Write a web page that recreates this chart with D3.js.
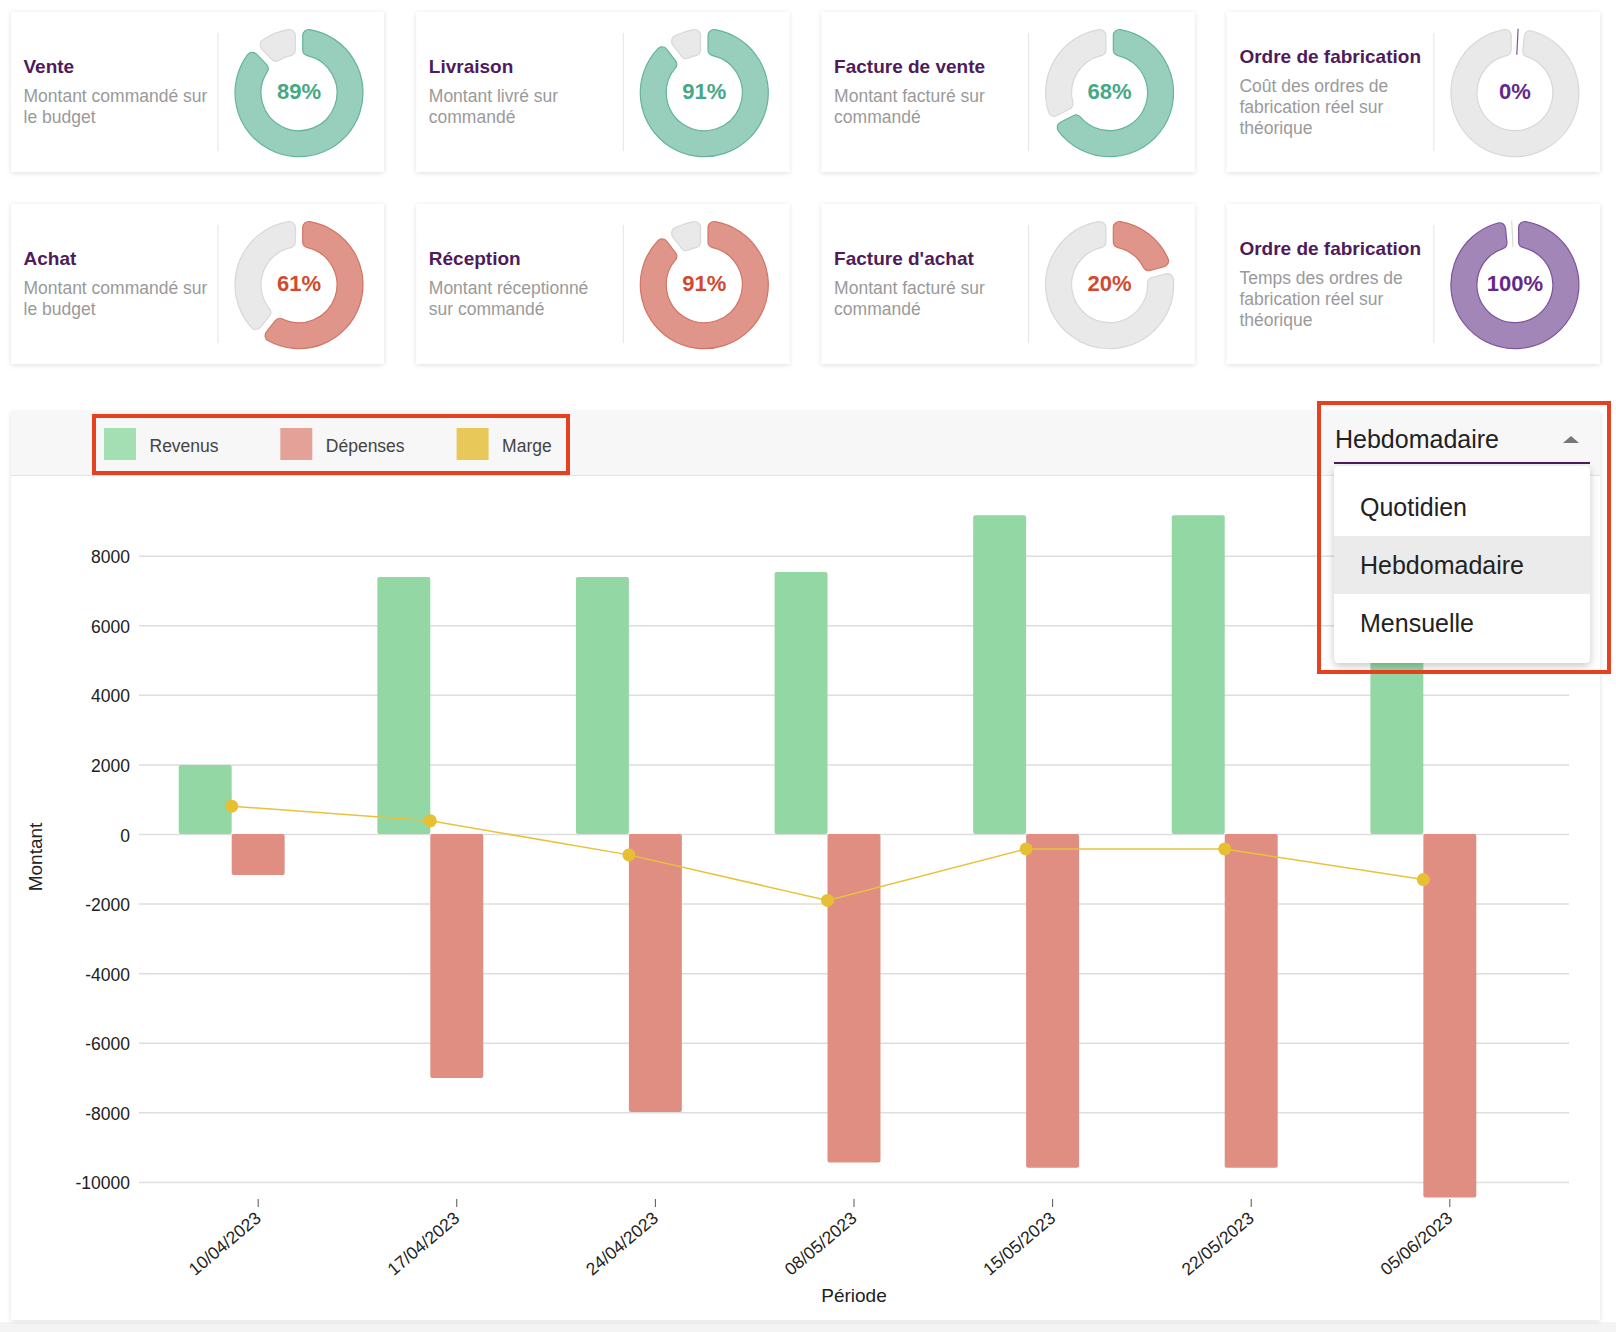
<!DOCTYPE html>
<html>
<head>
<meta charset="utf-8">
<script src="https://cdn.jsdelivr.net/npm/d3@7/dist/d3.min.js"></script>
<style>
  body { margin: 0; background: #fff; font-family: "Liberation Sans", Arial, Helvetica, sans-serif; }
  svg text { font-family: "Liberation Sans", Arial, Helvetica, sans-serif; }
</style>
</head>
<body>
<svg id="page" width="1616" height="1332"></svg>
<script>
// ---- indicateurs (cartes du haut)
var kpiTitres = ["Vente", "Livraison", "Facture de vente", "Ordre de fabrication",
                 "Achat", "Réception", "Facture d'achat", "Ordre de fabrication"];
var kpiSousTitres = [
  ["Montant commandé sur", "le budget"],
  ["Montant livré sur", "commandé"],
  ["Montant facturé sur", "commandé"],
  ["Coût des ordres de", "fabrication réel sur", "théorique"],
  ["Montant commandé sur", "le budget"],
  ["Montant réceptionné", "sur commandé"],
  ["Montant facturé sur", "commandé"],
  ["Temps des ordres de", "fabrication réel sur", "théorique"]
];
var kpiValeurs = [89, 91, 68, 0, 61, 91, 20, 100];
var kpiGroupes = ["vente", "vente", "vente", "fabrication", "achat", "achat", "achat", "fabrication"];

// ---- graphique
var periodes = ["10/04/2023", "17/04/2023", "24/04/2023", "08/05/2023", "15/05/2023", "22/05/2023", "05/06/2023"];
var revenus  = [1980, 7390, 7390, 7530, 9160, 9160, 9140];
var depenses = [-1180, -7010, -7990, -9440, -9590, -9590, -10450];
var marge    = [800, 380, -600, -1910, -430, -430, -1310];
var series = ["Revenus", "Dépenses", "Marge"];
var frequences = ["Quotidien", "Hebdomadaire", "Mensuelle"];
var frequenceChoisie = "Hebdomadaire";

var palette = {
  vente:       {fill: "#97cebc", stroke: "#66b598", text: "#47a886"},
  achat:       {fill: "#e0958a", stroke: "#d27565", text: "#d2492f"},
  fabrication: {fill: "#a386b8", stroke: "#7d539c", text: "#65288a"},
  reste:       {fill: "#e9e9e9", stroke: "#d8d8d8"}
};
var serieColors = {"Revenus": "#93d7a5", "Dépenses": "#df8e81", "Marge": "#e6bf33"};
var legendColors = {"Revenus": "#a3dfb3", "Dépenses": "#e3a197", "Marge": "#e9c85a"};

var svg = d3.select("#page");
var defs = svg.append("defs");
defs.append("filter").attr("id", "shadow").attr("x", "-10%").attr("y", "-10%").attr("width", "120%").attr("height", "120%")
  .append("feDropShadow").attr("dx", 0).attr("dy", 1).attr("stdDeviation", 2.5)
  .attr("flood-color", "#000").attr("flood-opacity", 0.13);
defs.append("filter").attr("id", "menuShadow").attr("x", "-20%").attr("y", "-20%").attr("width", "140%").attr("height", "140%")
  .append("feDropShadow").attr("dx", 0).attr("dy", 3).attr("stdDeviation", 4)
  .attr("flood-color", "#000").attr("flood-opacity", 0.22);

// bande grise en bas de page
svg.append("rect").attr("x", 0).attr("y", 1322).attr("width", 1616).attr("height", 10).attr("fill", "#f4f4f4");

// ---------- cartes
var cardW = 373, cardH = 160;
var pie = d3.pie().sort(null).padAngle(0.1);
var arc = d3.arc().innerRadius(38).outerRadius(64).cornerRadius(6);

kpiTitres.forEach(function(titre, i) {
  var col = i % 4, row = Math.floor(i / 4);
  var cx = 11 + col * 405.3, cy = 12 + row * 192;
  var g = svg.append("g").attr("transform", "translate(" + cx + "," + cy + ")");
  var pal = palette[kpiGroupes[i]];

  g.append("rect").attr("width", cardW).attr("height", cardH).attr("fill", "#fff").attr("filter", "url(#shadow)");

  var lignes = kpiSousTitres[i];
  var H = 29 + 21 * (lignes.length - 1);
  var base = 86 - H / 2;
  g.append("text").attr("x", 12.5).attr("y", base)
    .attr("font-size", "19px").attr("font-weight", "bold").attr("fill", "#4e1b5b").text(titre);
  lignes.forEach(function(l, k) {
    g.append("text").attr("x", 12.5).attr("y", base + 29 + 21 * k)
      .attr("font-size", "17.5px").attr("fill", "#9a9a9a").text(l);
  });

  g.append("line").attr("x1", 207).attr("x2", 207).attr("y1", 21).attr("y2", 139)
    .attr("stroke", "#e4e4e4").attr("stroke-width", 1);

  var donut = g.append("g").attr("transform", "translate(288,80.7)");
  donut.selectAll("path")
    .data(pie([kpiValeurs[i], 100 - kpiValeurs[i]]))
    .join("path")
      .attr("d", arc)
      .attr("fill", function(d, j) { return j === 0 ? pal.fill : palette.reste.fill; })
      .attr("stroke", function(d, j) { return j === 0 ? pal.stroke : palette.reste.stroke; })
      .attr("stroke-width", 1.2);
  donut.append("text").attr("text-anchor", "middle").attr("dy", "0.3em")
    .attr("font-size", "22px").attr("font-weight", "bold").attr("fill", pal.text)
    .text(kpiValeurs[i] + "%");
});

// ---------- panneau du graphique
var panel = svg.append("g");
panel.append("rect").attr("x", 11).attr("y", 412).attr("width", 1589).attr("height", 908)
  .attr("fill", "#fff").attr("filter", "url(#shadow)");
panel.append("rect").attr("x", 11).attr("y", 412).attr("width", 1589).attr("height", 63).attr("fill", "#f7f7f7");
panel.append("line").attr("x1", 11).attr("x2", 1600).attr("y1", 475.5).attr("y2", 475.5)
  .attr("stroke", "#e4e4e4").attr("stroke-width", 1);

// légende
var legend = panel.selectAll(".leg").data(series).join("g")
  .attr("class", "leg")
  .attr("transform", function(d, i) { return "translate(" + (104 + i * 176.3) + ",428)"; });
legend.append("rect").attr("width", 32).attr("height", 32).attr("fill", function(d) { return legendColors[d]; });
legend.append("text").attr("x", 45.5).attr("y", 23.7).attr("font-size", "17.5px").attr("fill", "#444")
  .text(function(d) { return d; });

// échelles
var x = d3.scaleBand().domain(periodes).range([139, 1569]).padding(0.2);
var xSub = d3.scaleBand().domain(series).range([0, x.bandwidth()]);
var y = d3.scaleLinear().domain([d3.min(depenses), d3.max(revenus)]).range([1197.6, 515.3]);

// axe y + grille
var yAxis = panel.append("g").attr("transform", "translate(139,0)")
  .call(d3.axisLeft(y).ticks(10).tickSize(-1430).tickPadding(9).tickFormat(function(d) { return String(d); }));
yAxis.select(".domain").remove();
yAxis.selectAll(".tick line").attr("stroke", "#dedede").attr("stroke-width", 1.5);
yAxis.selectAll(".tick text").attr("font-size", "17.5px").attr("fill", "#222").attr("dy", "0.4em");

// barres
var chart = panel.append("g");
chart.selectAll(".rev").data(periodes).join("rect")
  .attr("class", "rev")
  .attr("x", function(d) { return x(d) + xSub("Revenus"); })
  .attr("y", function(d, i) { return y(revenus[i]); })
  .attr("width", xSub.bandwidth())
  .attr("height", function(d, i) { return y(0) - y(revenus[i]); })
  .attr("rx", 2)
  .attr("fill", serieColors["Revenus"]);
chart.selectAll(".dep").data(periodes).join("rect")
  .attr("class", "dep")
  .attr("x", function(d) { return x(d) + xSub("Dépenses"); })
  .attr("y", y(0))
  .attr("width", xSub.bandwidth())
  .attr("height", function(d, i) { return y(depenses[i]) - y(0); })
  .attr("rx", 2)
  .attr("fill", serieColors["Dépenses"]);

// ligne de marge
var mx = function(d) { return x(d) + xSub.bandwidth(); };
chart.append("path")
  .datum(periodes)
  .attr("fill", "none")
  .attr("stroke", "#e8c23c")
  .attr("stroke-width", 1.5)
  .attr("d", d3.line().x(mx).y(function(d, i) { return y(marge[i]); }));
chart.selectAll(".pt").data(periodes).join("circle")
  .attr("class", "pt")
  .attr("cx", mx)
  .attr("cy", function(d, i) { return y(marge[i]); })
  .attr("r", 6.5)
  .attr("fill", serieColors["Marge"]);

// axe x
var xAxis = panel.append("g").attr("transform", "translate(0,1199)")
  .call(d3.axisBottom(x).tickSize(8));
xAxis.select(".domain").remove();
xAxis.selectAll(".tick line").attr("stroke", "#555");
xAxis.selectAll(".tick text")
  .attr("x", 0).attr("y", 0).attr("dy", 0)
  .attr("transform", "translate(4,21) rotate(-40)")
  .style("text-anchor", "end")
  .attr("font-size", "17.5px").attr("fill", "#222");

// titres des axes
panel.append("text").attr("text-anchor", "middle").attr("x", 854).attr("y", 1302)
  .attr("font-size", "19px").attr("fill", "#222").text("Période");
panel.append("text").attr("text-anchor", "middle").attr("transform", "translate(42,857) rotate(-90)")
  .attr("font-size", "19px").attr("fill", "#222").text("Montant");

// ---------- sélecteur de fréquence
var sel = svg.append("g");
sel.append("text").attr("x", 1335).attr("y", 448).attr("font-size", "25px").attr("fill", "#222").text(frequenceChoisie);
sel.append("path").attr("d", "M1563,443L1579,443L1571,436Z").attr("fill", "#777");
sel.append("rect").attr("x", 1334).attr("y", 462).attr("width", 256).attr("height", 2).attr("fill", "#4e1b5b");

var menu = sel.append("g");
menu.append("rect").attr("x", 1334).attr("y", 466).attr("width", 256).attr("height", 197).attr("rx", 5)
  .attr("fill", "#fff").attr("filter", "url(#menuShadow)");
menu.selectAll(".opt").data(frequences).join("g")
  .attr("class", "opt")
  .attr("transform", function(d, i) { return "translate(1334," + (478 + i * 58) + ")"; })
  .each(function(d) {
    var o = d3.select(this);
    if (d === frequenceChoisie) o.append("rect").attr("width", 256).attr("height", 58).attr("fill", "#ebebeb");
    o.append("text").attr("x", 26).attr("y", 38).attr("font-size", "25px").attr("fill", "#222").text(d);
  });

// ---------- encadrés rouges d'annotation
svg.append("rect").attr("x", 94).attr("y", 416).attr("width", 474).attr("height", 57)
  .attr("fill", "none").attr("stroke", "#e5401f").attr("stroke-width", 4);
svg.append("rect").attr("x", 1319).attr("y", 403).attr("width", 290).attr("height", 269)
  .attr("fill", "none").attr("stroke", "#e5401f").attr("stroke-width", 4);
</script>
</body>
</html>
